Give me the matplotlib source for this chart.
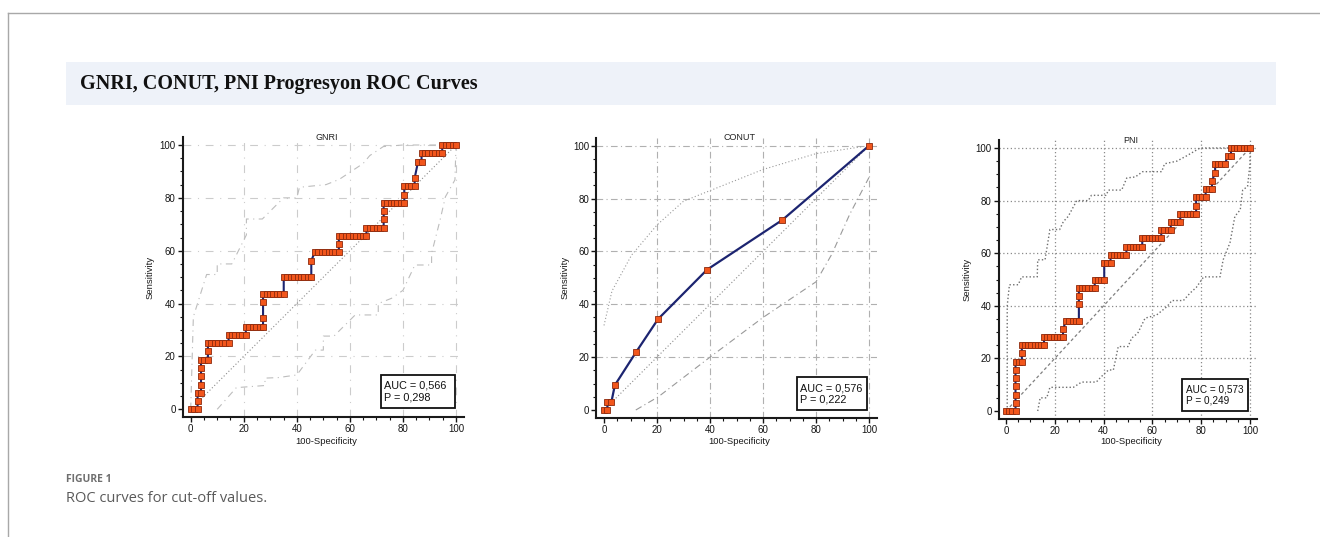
import matplotlib
matplotlib.use("Agg")
import matplotlib.pyplot as plt
from matplotlib.patches import Rectangle
import numpy as np

W, H = 1320, 537

# ---- data (counts) ----
N_NEG = 77
N_POS = 32

GNRI_FP = [0, 1, 2, 2, 2, 3, 3, 3, 3, 3, 4, 5, 5,
           5, 6, 7, 8, 9, 10, 11,
           11, 12, 13, 14, 15, 16,
           16, 17, 18, 19, 20, 21,
           21, 21, 21, 22, 23, 24, 25, 26, 27,
           27, 28, 29, 30, 31, 32, 33, 34, 35,
           35, 36, 37, 38, 39, 40, 41, 42, 43,
           43, 43, 44, 45, 46, 47, 48, 49, 50, 51,
           51, 52, 53, 54, 55, 56,
           56, 56, 56, 57, 58, 59, 60, 61, 62,
           62, 62, 63, 64, 65, 65,
           66, 67, 67, 68, 69, 70, 71, 72, 73,
           73, 74, 75, 76, 77]
GNRI_TP = [0, 0, 0, 1, 2, 2, 3, 4, 5, 6, 6, 6, 7,
           8, 8, 8, 8, 8, 8, 8,
           9, 9, 9, 9, 9, 9,
           10, 10, 10, 10, 10, 10,
           11, 13, 14, 14, 14, 14, 14, 14, 14,
           16, 16, 16, 16, 16, 16, 16, 16, 16,
           18, 19, 19, 19, 19, 19, 19, 19, 19,
           20, 21, 21, 21, 21, 21, 21, 21, 21, 21,
           22, 22, 22, 22, 22, 22,
           23, 24, 25, 25, 25, 25, 25, 25, 25,
           26, 27, 27, 27, 27, 28,
           30, 30, 31, 31, 31, 31, 31, 31, 31,
           32, 32, 32, 32, 32]

PNI_FP = [0, 1, 2, 3, 3, 3, 3, 3, 3, 3, 4, 5, 5,
          5, 6, 7, 8, 9, 10, 11, 12,
          12, 13, 14, 15, 16, 17, 18,
          18, 19, 20, 21, 22, 23,
          23, 23, 23, 24, 25, 26, 27, 28,
          28, 29, 30, 31,
          31, 32, 33,
          33, 34, 35, 36, 37, 38,
          38, 39, 40, 41, 42, 43,
          43, 44, 45, 46, 47, 48, 49,
          49, 50, 51, 52,
          52, 53, 54, 55,
          55, 56, 57, 58, 59, 60,
          60, 60, 61, 62, 63,
          63, 64, 65, 65, 66,
          66, 67, 68, 69,
          70, 71,
          71, 72, 73, 74, 75, 76, 77]
PNI_TP = [0, 0, 0, 0, 1, 2, 3, 4, 5, 6, 6, 6, 7,
          8, 8, 8, 8, 8, 8, 8, 8,
          9, 9, 9, 9, 9, 9, 9,
          10, 11, 11, 11, 11, 11,
          13, 14, 15, 15, 15, 15, 15, 15,
          16, 16, 16, 16,
          18, 18, 18,
          19, 19, 19, 19, 19, 19,
          20, 20, 20, 20, 20, 20,
          21, 21, 21, 21, 21, 21, 21,
          22, 22, 22, 22,
          23, 23, 23, 23,
          24, 24, 24, 24, 24, 24,
          25, 26, 26, 26, 26,
          27, 27, 27, 28, 29,
          30, 30, 30, 30,
          31, 31,
          32, 32, 32, 32, 32, 32, 32]

# CONUT has few cut-off points, read directly in percent
CONUT_X = [0, 1.3, 1.3, 2.8, 4.1, 12.1, 20.4, 38.9, 67.3, 100]
CONUT_Y = [0, 0, 3.1, 3.1, 9.4, 21.9, 34.4, 53.1, 71.9, 100]

# confidence bands
GNRI_UP_X = [0, 1, 6, 10, 10, 15.5, 21, 21, 27, 35, 40, 41, 51, 56, 65, 67.5, 72.6, 80, 100]
GNRI_UP_Y = [0, 35, 51, 51, 55, 55, 66, 72, 72, 80, 80, 84, 85, 87, 93, 96, 99.4, 100, 100]
GNRI_LO_X = [10, 17.2, 28, 28, 33, 40, 47, 50, 50, 54, 62, 70.7, 70.7, 75.7, 80, 84.5, 90.8, 90.8, 94, 96, 99.6, 100]
GNRI_LO_Y = [0, 8.2, 9, 11.8, 12, 13, 22.4, 22.4, 27.7, 27.7, 35.7, 35.7, 40, 42, 45, 54.6, 54.6, 59, 71.6, 80.4, 86.8, 100]

CONUT_UP_X = [0, 3, 10.4, 20, 30, 40, 60, 80, 100]
CONUT_UP_Y = [32, 45, 58.6, 70, 79, 83, 91, 97, 100]
CONUT_LO_X = [12, 20.5, 40, 60, 80, 86, 92.7, 100]
CONUT_LO_Y = [0, 5, 20, 35, 48.5, 59, 74, 88]

PNI_UP_X = [0.5, 0.5, 1.4, 5, 6.4, 12.8, 13, 16, 18, 22, 23.5, 25.5, 29, 33.7, 35, 41, 42,
            47.4, 49.5, 53, 56, 63.8, 65, 70, 74, 79.5, 100]
PNI_UP_Y = [0, 40, 48, 48, 51, 51, 57.5, 57.5, 69, 69, 72, 74, 80, 80, 82, 82, 84,
            84, 88.6, 89, 91, 91, 94, 95, 97, 100, 100]
PNI_LO_X = [13, 14, 16.7, 18, 27.6, 31, 37, 39, 42, 44, 46, 50, 51.5, 54, 57, 61.7, 66, 68,
            72.7, 75.4, 78, 81, 87.7, 89, 91.8, 93.8, 96, 97, 99, 100, 100]
PNI_LO_Y = [0, 5, 5, 9, 9, 11, 11, 13, 15.6, 15.6, 24.5, 24.5, 27.7, 29.6, 35.3, 36.5, 39.7, 42,
            42, 44.8, 47, 51, 51, 57.5, 64, 74, 76.5, 84, 85.4, 94, 100]

AUC_TEXT = ["AUC = 0,566\nP = 0,298", "AUC = 0,576\nP = 0,222", "AUC = 0,573\nP = 0,249"]
TITLES = ["GNRI", "CONUT", "PNI"]

# ---- figure ----
fig = plt.figure(figsize=(W / 100, H / 100), dpi=100)
fig.patch.set_facecolor("white")


def fx(x):
    return x / W


def fy(y):
    return 1 - y / H


# outer frame lines
fig.add_artist(plt.Line2D([fx(8), 1], [fy(13), fy(13)], color="#a8a8a8", lw=1.0))
fig.add_artist(plt.Line2D([fx(8), fx(8)], [fy(13), 0], color="#a8a8a8", lw=1.0))

# header band
fig.add_artist(Rectangle((fx(66), fy(105)), fx(1276) - fx(66), fy(62) - fy(105),
                         transform=fig.transFigure, facecolor="#eef2f9", edgecolor="none"))
fig.text(fx(80), fy(84), "GNRI, CONUT, PNI Progresyon ROC Curves", family="Liberation Serif",
         weight="bold", fontsize=14.5, va="center", ha="left", color="#111111")

fig.text(fx(66), fy(479), "FIGURE 1", family="Open Sans", weight="bold", fontsize=7.5,
         color="#6f6f6f", va="center")
fig.text(fx(66), fy(498), "ROC curves for cut-off values.", family="Open Sans", fontsize=10.5,
         color="#5a5a5a", va="center")

# panel geometry: pixel positions of data 0 and 100
panels = [
    dict(x0=190.7, x100=456.0, y0=409.3, y100=145.0, lab_x=150),
    dict(x0=604.0, x100=869.0, y0=410.0, y100=145.7, lab_x=565),
    dict(x0=1006.0, x100=1250.0, y0=411.0, y100=148.0, lab_x=967),
]
LO, HI = -3, 103

navy = "#1c2470"
mfc = "#f2561c"
mec = "#8c2a0e"

axes = []
for i, p in enumerate(panels):
    sx = (p["x100"] - p["x0"]) / 100
    sy = (p["y0"] - p["y100"]) / 100
    left = p["x0"] + LO * sx
    right = p["x0"] + HI * sx
    bottom = p["y0"] - LO * sy
    top = p["y0"] - HI * sy
    ax = fig.add_axes([fx(left), fy(bottom), fx(right) - fx(left), fy(top) - fy(bottom)])
    ax.set_xlim(LO, HI)
    ax.set_ylim(LO, HI)
    ax.spines["top"].set_visible(False)
    ax.spines["right"].set_visible(False)
    for s in ["left", "bottom"]:
        ax.spines[s].set_linewidth(1.5)
        ax.spines[s].set_color("#1a1a1a")
    ax.set_xticks(np.arange(0, 101, 20))
    ax.set_yticks(np.arange(0, 101, 20))
    ax.set_xticks(np.arange(0, 101, 5), minor=True)
    ax.set_yticks(np.arange(0, 101, 5), minor=True)
    ax.tick_params(which="major", length=3.5, width=1.0, pad=1.5, labelsize=7,
                   colors="#151515", direction="out")
    ax.tick_params(which="minor", length=2, width=0.8, direction="out", colors="#151515")
    for lab in ax.get_xticklabels() + ax.get_yticklabels():
        lab.set_family("Liberation Sans")
    fig.text(fx((left + right) / 2 + 3), fy(top), TITLES[i], family="Liberation Sans",
             fontsize=6.5, ha="center", va="center", color="#222222")
    fig.text(fx((left + right) / 2 + 3), fy(442), "100-Specificity", family="Liberation Sans",
             fontsize=6.8, ha="center", va="center", color="#1a1a1a")
    fig.text(fx(p["lab_x"]), fy((top + bottom) / 2), "Sensitivity", family="Liberation Sans",
             fontsize=6.8, ha="center", va="center", rotation=90, color="#1a1a1a")
    axes.append(ax)

# grids and reference diagonals
ax1, ax2, ax3 = axes
for v in range(20, 101, 20):
    ax1.axhline(v, color="#cccccc", lw=0.8, ls=(0, (7, 6, 1, 6)), zorder=0)
    ax1.axvline(v, color="#cccccc", lw=0.8, ls=(0, (7, 6, 1, 6)), zorder=0)
    ax2.axhline(v, color="#b0b0b0", lw=0.8, ls=(0, (6, 3, 1, 3)), zorder=0)
    ax2.axvline(v, color="#b0b0b0", lw=0.8, ls=(0, (6, 3, 1, 3)), zorder=0)
    ax3.axhline(v, color="#8a8a8a", lw=0.9, ls=(0, (1, 2)), zorder=0)
    ax3.axvline(v, color="#8a8a8a", lw=0.9, ls=(0, (1, 2)), zorder=0)

ax1.plot([0, 100], [0, 100], color="#8c8c8c", lw=0.8, ls=(0, (1, 2)), zorder=1)
ax2.plot([0, 100], [0, 100], color="#8c8c8c", lw=0.8, ls=(0, (1, 2)), zorder=1)
ax3.plot([0, 100], [0, 100], color="#808080", lw=0.9, ls=(0, (2.5, 2)), zorder=1)

# confidence bands
ax1.plot(GNRI_UP_X, GNRI_UP_Y, color="#bdbdbd", lw=0.8, ls=(0, (6, 4, 1, 4)), zorder=1)
ax1.plot(GNRI_LO_X, GNRI_LO_Y, color="#bdbdbd", lw=0.8, ls=(0, (6, 4, 1, 4)), zorder=1)
ax2.plot(CONUT_UP_X, CONUT_UP_Y, color="#9a9a9a", lw=0.8, ls=(0, (1, 2)), zorder=1)
ax2.plot(CONUT_LO_X, CONUT_LO_Y, color="#9a9a9a", lw=0.8, ls=(0, (6, 3, 1, 3)), zorder=1)
ax3.plot(PNI_UP_X, PNI_UP_Y, color="#6e6e6e", lw=1.0, ls=(0, (1, 1.6)), zorder=1)
ax3.plot(PNI_LO_X, PNI_LO_Y, color="#6e6e6e", lw=1.0, ls=(0, (1, 1.6)), zorder=1)

# ROC curves
gx = np.array(GNRI_FP) * 100 / N_NEG
gy = np.array(GNRI_TP) * 100 / N_POS
px_ = np.array(PNI_FP) * 100 / N_NEG
py_ = np.array(PNI_TP) * 100 / N_POS

ax1.plot(gx, gy, color=navy, lw=1.5, marker="s", ms=4.2, mfc=mfc, mec=mec, mew=0.6, zorder=3)
ax2.plot(CONUT_X, CONUT_Y, color=navy, lw=1.6, marker="s", ms=4.6, mfc=mfc, mec=mec, mew=0.6, zorder=3)
ax3.plot(px_, py_, color=navy, lw=1.5, marker="s", ms=4.0, mfc=mfc, mec=mec, mew=0.6, zorder=3)

# AUC boxes (data coords)
boxes = [(71.7, 0.4, 28.0, 12.6), (72.7, 0.0, 26.4, 12.4), (72.3, 0.0, 27.0, 12.0)]
box_fs = [7.8, 7.8, 7.2]
for ax, (bx, by, bw, bh), txt, fs in zip(axes, boxes, AUC_TEXT, box_fs):
    ax.add_patch(Rectangle((bx, by), bw, bh, facecolor="white", edgecolor="#111111",
                           lw=1.3, zorder=4))
    ax.text(bx + 1.3, by + bh / 2, txt, family="Liberation Sans", fontsize=fs,
            va="center", ha="left", linespacing=1.15, color="#111111", zorder=5)

fig.savefig("out.png", dpi=100)
